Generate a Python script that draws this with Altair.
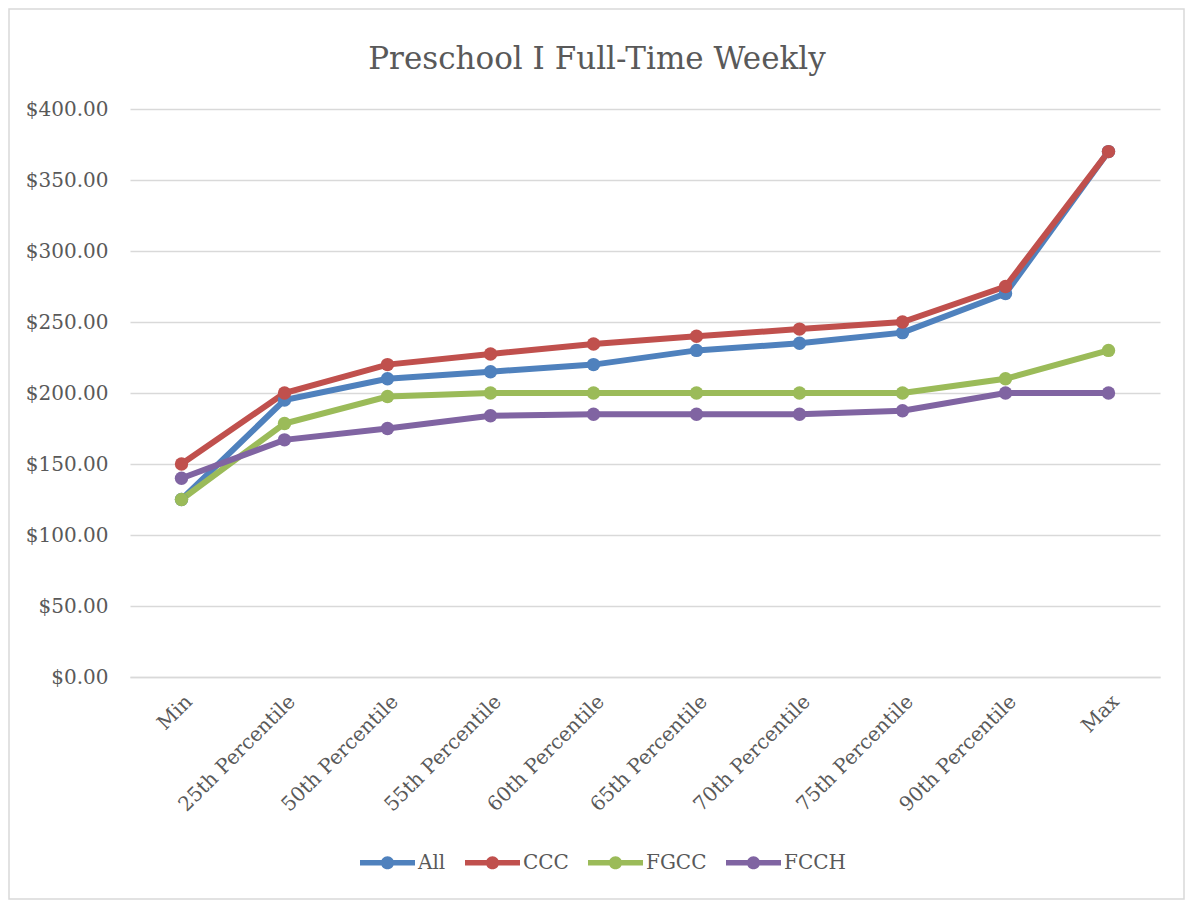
import altair as alt
import pandas as pd

categories = ["Min", "25th Percentile", "50th Percentile", "55th Percentile",
              "60th Percentile", "65th Percentile", "70th Percentile",
              "75th Percentile", "90th Percentile", "Max"]
series_names = ["All", "CCC", "FGCC", "FCCH"]
all_vals = [125, 195, 210, 215, 220, 230, 235, 242.5, 270, 370]
ccc_vals = [150, 200, 220, 227.5, 234.5, 240, 245, 250, 275, 370]
fgcc_vals = [125, 178.5, 197.5, 200, 200, 200, 200, 200, 210, 230]
fcch_vals = [140, 167, 175, 184, 185, 185, 185, 187.5, 200, 200]
colors = ["#4F81BD", "#C0504D", "#9BBB59", "#8064A2"]
y_ticks = [0, 50, 100, 150, 200, 250, 300, 350, 400]

rows = []
for name, col, vals in zip(series_names, colors,
                           [all_vals, ccc_vals, fgcc_vals, fcch_vals]):
    for c, v in zip(categories, vals):
        rows.append({"Category": c, "Series": name, "Hex": col, "Value": v})
df = pd.DataFrame(rows)

FONT = "DejaVu Serif"
TXT = "#595959"

x_enc = alt.X("Category:N", sort=categories, title=None,
              scale=alt.Scale(type="point", padding=0.5),
              axis=alt.Axis(labelAngle=-45, labelFontSize=20, labelColor=TXT,
                            labelFont=FONT, ticks=False, domain=True,
                            domainColor="#d9d9d9", domainWidth=1.5,
                            labelPadding=14, grid=False))
y_enc = alt.Y("Value:Q", title=None,
              scale=alt.Scale(domain=[0, 400], nice=False),
              axis=alt.Axis(values=y_ticks, format="$,.2f", labelFontSize=20,
                            labelColor=TXT, labelFont=FONT, ticks=False,
                            domain=False, labelPadding=22, grid=True,
                            gridColor="#d9d9d9", gridWidth=1.5))

legend_path = ("M-1,-0.1L1,-0.1L1,0.1L-1,0.1Z "
               "M0.24,0A0.24,0.24 0 1,1 -0.24,0A0.24,0.24 0 1,1 0.24,0Z")

base = alt.Chart(df)
lines = base.mark_line(strokeWidth=6).encode(
    x=x_enc, y=y_enc,
    color=alt.Color("Hex:N", scale=None),
    detail="Series:N",
)
points = base.mark_circle(size=180, opacity=1).encode(
    x=x_enc, y=y_enc,
    color=alt.Color("Series:N", scale=alt.Scale(domain=series_names, range=colors),
                    legend=alt.Legend(title=None, orient="none", direction="horizontal",
                                      legendX=230, legendY=726,
                                      symbolType=legend_path, symbolSize=3025,
                                      symbolStrokeWidth=0, symbolOpacity=1,
                                      labelFont=FONT, labelFontSize=20,
                                      labelColor=TXT, labelOffset=3,
                                      columnPadding=19)),
)
frame = alt.Chart(pd.DataFrame({"a": [0]})).mark_rect(
    filled=False, stroke="#d9d9d9", strokeWidth=1.5
).encode(x=alt.value(-121), x2=alt.value(1054), y=alt.value(-100), y2=alt.value(790))

chart = alt.layer(lines, points, frame).properties(
    width=1030, height=568,
    title=alt.TitleParams("Preschool I Full-Time Weekly", font=FONT, fontSize=31,
                          fontWeight="normal", color=TXT, anchor="middle",
                          dx=-48, offset=-68),
    padding={"left": 122, "top": 101, "right": 25, "bottom": 223},
    autosize=alt.AutoSizeParams(type="none"),
).configure_view(strokeWidth=0)

chart.save("out.html", embed_options={"renderer": "svg", "actions": False})
